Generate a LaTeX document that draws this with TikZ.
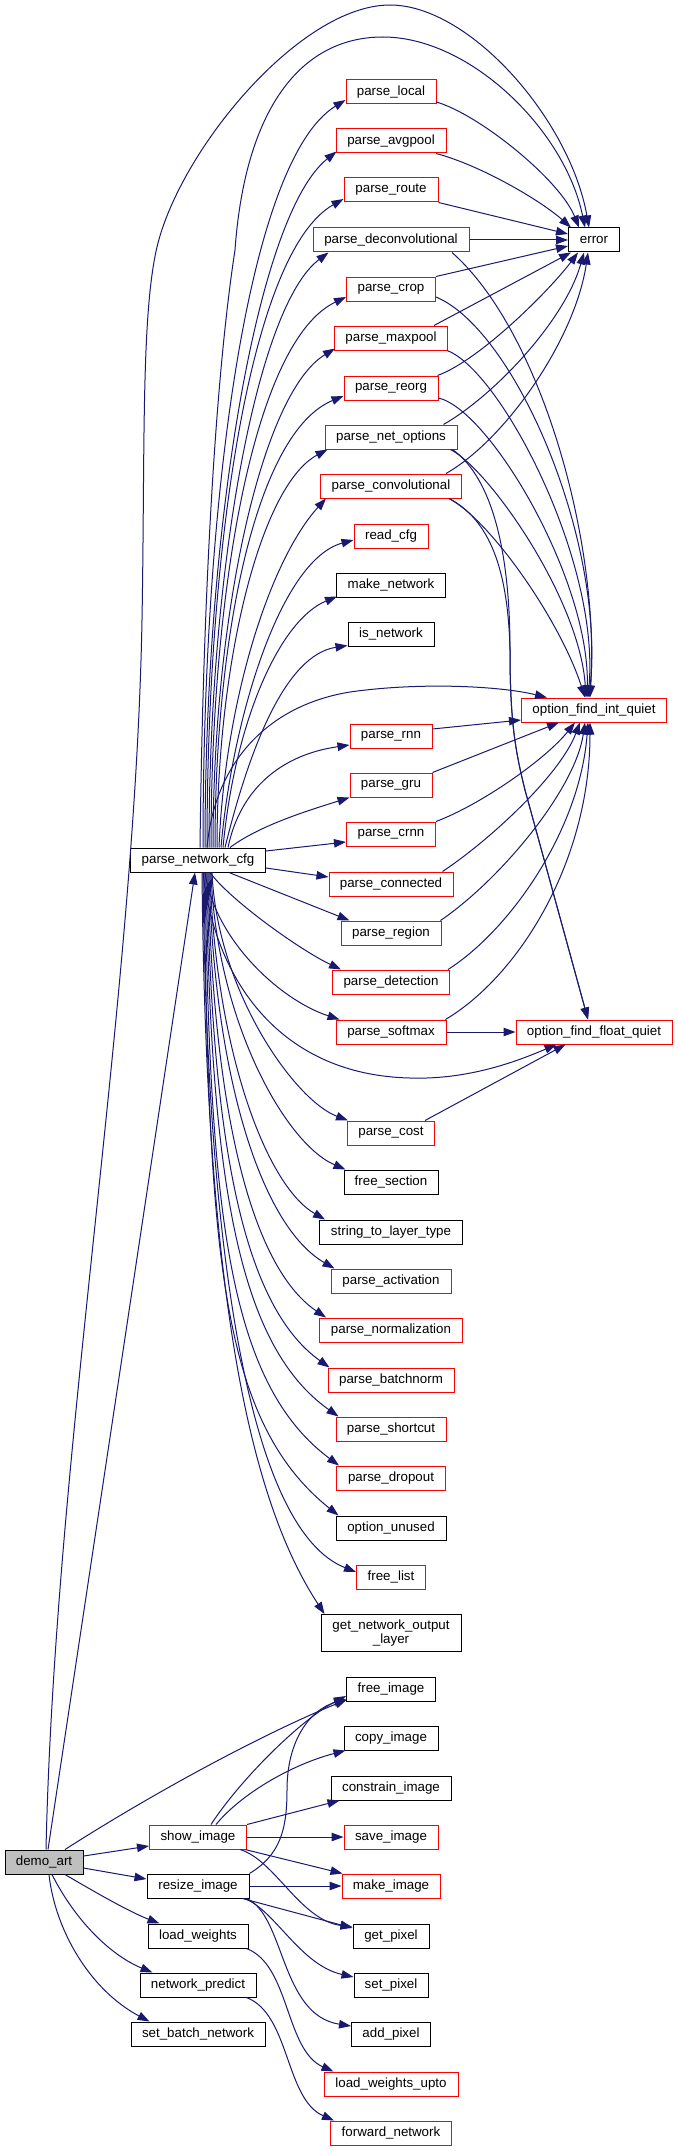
\documentclass[tikz,border=0pt]{standalone}
\usepackage{fontspec}
\setmainfont{Liberation Sans}
\usetikzlibrary{arrows.meta,calc}
\definecolor{edgeblue}{HTML}{191970}
\definecolor{nodered}{HTML}{FF0000}
\definecolor{rootfill}{HTML}{BFBFBF}
\tikzset{
  fn/.style={draw=black, line width=1pt, fill=white, minimum height=24pt,
    inner xsep=0pt, inner ysep=0pt, font=\fontsize{13.33}{15}\selectfont},
  fnred/.style={fn, draw=nodered},
  fnroot/.style={fn, fill=rootfill},
  call/.style={draw=edgeblue, line width=1pt, -{Triangle[length=12pt,width=8.5pt]}}
}
\begin{document}
\begin{tikzpicture}[x=1pt,y=-1pt]
\fill[white] (0,0) rectangle (677,2151);
\useasboundingbox (0,0) rectangle (677,2151);

% ---------- nodes ----------
\node[fn, minimum width=51pt] (err) at (594,240) {error};
\node[fnred, minimum width=145pt] (ofiq) at (594,710) {option\_find\_int\_quiet};
\node[fnred, minimum width=156pt] (offq) at (594,1032) {option\_find\_float\_quiet};

\node[fnred, minimum width=90pt] (plocal) at (391,92) {parse\_local};
\node[fnred, minimum width=110pt] (pavg) at (391,141) {parse\_avgpool};
\node[fnred, minimum width=94pt] (proute) at (391,190) {parse\_route};
\node[fnred, minimum width=156pt] (pdeconv) at (391,240) {parse\_deconvolutional};
\node[fnred, minimum width=89pt] (pcrop) at (391,289) {parse\_crop};
\node[fnred, minimum width=113pt] (pmax) at (391,338) {parse\_maxpool};
\node[fnred, minimum width=94pt] (preorg) at (391,388) {parse\_reorg};
\node[fnred, minimum width=132pt] (pnet) at (391,437) {parse\_net\_options};
\node[fnred, minimum width=141pt] (pconv) at (391,486) {parse\_convolutional};
\node[fnred, minimum width=74pt] (rcfg) at (391,536) {read\_cfg};
\node[fn, minimum width=109pt] (mknet) at (391,585) {make\_network};
\node[fn, minimum width=86pt] (isnet) at (391,634) {is\_network};
\node[fnred, minimum width=82pt] (prnn) at (391,736) {parse\_rnn};
\node[fnred, minimum width=82pt] (pgru) at (391,785) {parse\_gru};
\node[fnred, minimum width=89pt] (pcrnn) at (391,834) {parse\_crnn};
\node[fnred, minimum width=124pt] (pconn) at (391,884) {parse\_connected};
\node[fnred, minimum width=100pt] (pregion) at (391,933) {parse\_region};
\node[fnred, minimum width=117pt] (pdet) at (391,982) {parse\_detection};
\node[fnred, minimum width=110pt] (psoft) at (391,1032) {parse\_softmax};
\node[fnred, minimum width=87pt] (pcost) at (391,1133) {parse\_cost};
\node[fn, minimum width=94pt] (fsec) at (391,1182) {free\_section};
\node[fn, minimum width=143pt] (s2l) at (391,1232) {string\_to\_layer\_type};
\node[fnred, minimum width=120pt] (pact) at (391,1281) {parse\_activation};
\node[fnred, minimum width=143pt] (pnorm) at (391,1330) {parse\_normalization};
\node[fnred, minimum width=126pt] (pbn) at (391,1380) {parse\_batchnorm};
\node[fnred, minimum width=110pt] (psc) at (391,1429) {parse\_shortcut};
\node[fnred, minimum width=109pt] (pdrop) at (391,1478) {parse\_dropout};
\node[fn, minimum width=110pt] (ounused) at (391,1528) {option\_unused};
\node[fnred, minimum width=69pt] (flist) at (391,1577) {free\_list};
\node[fn, minimum width=140pt, minimum height=37pt, align=center,
      font=\fontsize{13.33}{13.5}\selectfont] (gnol) at (391,1633) {get\_network\_output\\\_layer};
\node[fn, minimum width=89pt] (fimg) at (391,1689) {free\_image};
\node[fn, minimum width=94pt] (cimg) at (391,1738) {copy\_image};
\node[fn, minimum width=120pt] (conimg) at (391,1788) {constrain\_image};
\node[fnred, minimum width=94pt] (simg) at (391,1837) {save\_image};
\node[fnred, minimum width=98pt] (mimg) at (391,1886) {make\_image};
\node[fn, minimum width=76pt] (gpix) at (391,1936) {get\_pixel};
\node[fn, minimum width=74pt] (spix) at (391,1985) {set\_pixel};
\node[fn, minimum width=79pt] (apix) at (391,2034) {add\_pixel};
\node[fnred, minimum width=134pt] (lwu) at (391,2084) {load\_weights\_upto};
\node[fnred, minimum width=121pt] (fwd) at (391,2133) {forward\_network};

\node[fn, minimum width=135pt] (pnc) at (198,860) {parse\_network\_cfg};
\node[fnred, minimum width=97pt] (show) at (198,1837) {show\_image};
\node[fn, minimum width=102pt] (resize) at (198,1886) {resize\_image};
\node[fn, minimum width=100pt] (lw) at (198,1936) {load\_weights};
\node[fn, minimum width=116pt] (np) at (198,1985) {network\_predict};
\node[fn, minimum width=134pt] (sbn) at (198,2034) {set\_batch\_network};

\node[fnroot, minimum width=78pt] (demo) at (44,1862) {demo\_art};

% ---------- edges into error ----------
\draw[call] ($(demo.north)+(2,0)$) .. controls (55,1450) and (135,1000) .. (142,620)
  .. controls (145,450) and (141,315) .. (157,247)
  .. controls (180,150) and (300,5) .. (390,5)
  .. controls (470,5) and (570,120) .. ($(err.north)+(-5,0)$);
\draw[call] ($(pnc.north)+(2,0)$) .. controls (203,600) and (215,380) .. (235,250)
  .. controls (245,110) and (300,37) .. (383,37)
  .. controls (470,37) and (565,130) .. ($(err.north)+(-9,0)$);
\draw[call] ($(plocal.east)+(0,10)$) .. controls (480,115) and (560,180) .. ($(err.north)+(-15,0)$);
\draw[call] ($(pavg.south)+(45,0)$) .. controls (480,165) and (540,200) .. ($(err.north west)+(3,0)$);
\draw[call] (proute.south east) -- ($(err.west)+(0,-6)$);
\draw[call] (pdeconv.east) -- (err.west);
\draw[call] (pcrop.north east) -- ($(err.west)+(0,6)$);
\draw[call] ($(pmax.north east)+(-14,0)$) -- ($(err.south west)+(3,0)$);
\draw[call] ($(preorg.north east)+(-1,0)$) .. controls (480,360) and (550,290) .. ($(err.south)+(-16,0)$);
\draw[call] ($(pnet.north east)+(-14,0)$) .. controls (495,395) and (565,320) .. ($(err.south)+(-10,0)$);
\draw[call] ($(pconv.north east)+(-16,0)$) .. controls (505,440) and (575,340) .. ($(err.south)+(-6,0)$);

% ---------- edges into option_find_int_quiet ----------
\draw[call] ($(pnc.north)+(9,0)$) .. controls (215,760) and (270,705) .. (350,692)
  .. controls (420,682) and (500,686) .. ($(ofiq.north west)+(26,0)$);
\draw[call] ($(pdeconv.south)+(61,0)$) .. controls (540,330) and (600,540) .. ($(ofiq.north)+(-4,0)$);
\draw[call] ($(pcrop.east)+(0,8)$) .. controls (515,330) and (605,540) .. ($(ofiq.north)+(-5,0)$);
\draw[call] ($(pmax.south east)+(-1,0)$) .. controls (500,370) and (600,560) .. ($(ofiq.north)+(-6,0)$);
\draw[call] ($(preorg.east)+(0,10)$) .. controls (490,410) and (590,580) .. ($(ofiq.north)+(-7,0)$);
\draw[call] ($(pnet.south east)+(-7,0)$) .. controls (490,470) and (580,600) .. ($(ofiq.north)+(-8,0)$);
\draw[call] ($(pconv.south east)+(-13,0)$) .. controls (490,520) and (560,620) .. ($(ofiq.north)+(-9,0)$);
\draw[call] ($(prnn.east)+(0,-7)$) -- ($(ofiq.west)+(0,10)$);
\draw[call] (pgru.north east) -- ($(ofiq.south west)+(38,0)$);
\draw[call] (pcrnn.north east) .. controls (480,805) and (545,760) .. ($(ofiq.south)+(-19,0)$);
\draw[call] ($(pconn.north east)+(-11,0)$) .. controls (490,840) and (560,775) .. ($(ofiq.south)+(-14,0)$);
\draw[call] ($(pregion.north east)+(-1,0)$) .. controls (500,880) and (575,790) .. ($(ofiq.south)+(-9,0)$);
\draw[call] ($(pdet.north east)+(-2,0)$) .. controls (510,930) and (580,830) .. ($(ofiq.south)+(-6,0)$);
\draw[call] ($(psoft.north east)+(-1,0)$) .. controls (520,975) and (590,860) .. ($(ofiq.south)+(-4,0)$);

% ---------- edges into option_find_float_quiet ----------
\draw[call] ($(pnet.south east)+(-5,0)$) .. controls (495,480) and (510,560) .. (510,650)
  .. controls (510,720) and (515,750) .. (525,790) -- ($(offq.north)+(-6,0)$);
\draw[call] ($(pconv.south east)+(-13,0)$) .. controls (490,520) and (508,570) .. (510,650)
  .. controls (510,720) and (515,750) .. (525,790) -- ($(offq.north)+(-6,0)$);
\draw[call] (psoft.east) -- (offq.west);
\draw[call] ($(pnc.south)+(5,0)$) .. controls (215,980) and (280,1075) .. (410,1078)
  .. controls (470,1080) and (520,1060) .. ($(offq.south west)+(41,0)$);
\draw[call] ($(pcost.north east)+(-10,0)$) -- ($(offq.south west)+(50,0)$);

% ---------- parse_network_cfg fan, upper ----------
\draw[call] ($(pnc.north)+(5,0)$) .. controls (203,496) and (248,160) .. ($(plocal.west)+(0,8)$);
\draw[call] ($(pnc.north)+(7,0)$) .. controls (205,520) and (258,214) .. ($(pavg.south west)+(1,-2)$);
\draw[call] ($(pnc.north)+(9,0)$) .. controls (207,543) and (251,251) .. ($(proute.west)+(0,9)$);
\draw[call] ($(pnc.north)+(11,0)$) .. controls (209,568) and (257,306) .. ($(pdeconv.south west)+(16,0)$);
\draw[call] ($(pnc.north)+(13,0)$) .. controls (211,589) and (254,341) .. ($(pcrop.west)+(0,8)$);
\draw[call] ($(pnc.north)+(15,0)$) .. controls (213,613) and (262,393) .. ($(pmax.south west)+(1,-2)$);
\draw[call] ($(pnc.north)+(17,0)$) .. controls (215,636) and (256,432) .. ($(preorg.west)+(0,8)$);
\draw[call] ($(pnc.north)+(19,0)$) .. controls (217,660) and (261,485) .. ($(pnet.south west)+(3,0)$);
\draw[call] ($(pnc.north)+(21,0)$) .. controls (225,700) and (270,560) .. ($(pconv.south west)+(6,0)$);
\draw[call] ($(pnc.north)+(23,0)$) .. controls (232,720) and (280,560) .. ($(rcfg.west)+(0,4)$);
\draw[call] ($(pnc.north)+(25,0)$) .. controls (235,720) and (280,620) .. ($(mknet.south west)+(1,-1)$);
\draw[call] ($(pnc.north)+(27,0)$) .. controls (250,746) and (286,655) .. ($(isnet.south west)+(0,-1)$);
\draw[call] ($(pnc.north)+(30,0)$) .. controls (240,790) and (280,755) .. ($(prnn.west)+(0,9)$);
\draw[call] ($(pnc.north)+(32,0)$) .. controls (260,825) and (310,810) .. (pgru.south west);
\draw[call] ($(pnc.east)+(0,-9)$) -- ($(pcrnn.west)+(0,8)$);
\draw[call] ($(pnc.east)+(0,8)$) -- ($(pconn.west)+(0,-7)$);
\draw[call] ($(pnc.south)+(31,0)$) -- ($(pregion.north west)+(9,0)$);
\draw[call] ($(pnc.south)+(12,0)$) .. controls (230,900) and (300,950) .. ($(pdet.north west)+(9,0)$);
\draw[call] ($(pnc.south)+(7,0)$) .. controls (215,940) and (280,1000) .. ($(psoft.north west)+(4,0)$);

% ---------- parse_network_cfg fan, lower ----------
\draw[call] ($(pnc.south)+(14,0)$) .. controls (217,990) and (294,1100) .. ($(pcost.north west)+(1,0)$);
\draw[call] ($(pnc.south)+(13,0)$) .. controls (216,1018) and (284,1143) .. ($(fsec.north west)+(2,0)$);
\draw[call] ($(pnc.south)+(12,0)$) .. controls (215,1046) and (265,1185) .. ($(s2l.north west)+(6,0)$);
\draw[call] ($(pnc.south)+(11,0)$) .. controls (214,1076) and (261,1226) .. ($(pact.north west)+(4,0)$);
\draw[call] ($(pnc.south)+(10,0)$) .. controls (213,1107) and (250,1266) .. ($(pnorm.north west)+(7,0)$);
\draw[call] ($(pnc.south)+(9,0)$) .. controls (212,1140) and (242,1305) .. ($(pbn.north west)+(2,0)$);
\draw[call] ($(pnc.south)+(8,0)$) .. controls (211,1174) and (236,1344) .. ($(psc.north west)+(3,0)$);
\draw[call] ($(pnc.south)+(7,0)$) .. controls (210,1209) and (227,1382) .. ($(pdrop.north west)+(3,0)$);
\draw[call] ($(pnc.south)+(6,0)$) .. controls (209,1246) and (218,1419) .. ($(ounused.north west)+(3,0)$);
\draw[call] ($(pnc.south)+(5,0)$) .. controls (207,1260) and (250,1530) .. ($(flist.west)+(0,-5)$);
\draw[call] ($(pnc.south)+(4,0)$) .. controls (206,1300) and (250,1500) .. ($(gnol.north west)+(4,0)$);

% ---------- demo_art ----------
\draw[call] ($(demo.north)+(4,0)$) -- ($(pnc.south)+(-3,0)$);
\draw[call] ($(demo.north)+(21,0)$) .. controls (150,1795) and (260,1735) .. ($(fimg.south west)+(1,-2)$);
\draw[call] ($(demo.east)+(0,-6)$) -- ($(show.west)+(0,9)$);
\draw[call] ($(demo.east)+(0,6)$) -- ($(resize.west)+(0,-7)$);
\draw[call] ($(demo.south)+(21,0)$) .. controls (100,1895) and (130,1912) .. ($(lw.north west)+(12,0)$);
\draw[call] ($(demo.south)+(8,0)$) .. controls (75,1920) and (110,1955) .. ($(np.north west)+(13,0)$);
\draw[call] ($(demo.south)+(5,0)$) .. controls (55,1930) and (90,1990) .. ($(sbn.north west)+(19,0)$);

% ---------- show_image ----------
\draw[call] ($(show.north)+(13,0)$) .. controls (240,1780) and (300,1720) .. ($(fimg.west)+(0,7)$);
\draw[call] ($(show.north)+(18,0)$) .. controls (240,1795) and (290,1765) .. ($(cimg.south west)+(2,0)$);
\draw[call] (show.north east) -- ($(conimg.south west)+(9,0)$);
\draw[call] (show.east) -- (simg.west);
\draw[call] ($(show.south east)+(-2,0)$) -- ($(mimg.north west)+(1,0)$);
\draw[call] ($(show.south)+(42,0)$) .. controls (275,1860) and (300,1920) .. ($(gpix.west)+(0,-9)$);

% ---------- resize_image ----------
\draw[call] (resize.north east) .. controls (280,1855) and (287,1830) .. (287,1790)
  .. controls (287,1740) and (310,1710) .. ($(fimg.west)+(0,10)$);
\draw[call] (resize.east) -- (mimg.west);
\draw[call] ($(resize.south east)+(-7,0)$) -- ($(gpix.west)+(0,-8)$);
\draw[call] ($(resize.south east)+(-5,0)$) .. controls (275,1910) and (300,1965) .. ($(spix.west)+(0,-8)$);
\draw[call] ($(resize.south east)+(-3,0)$) .. controls (285,1915) and (280,2015) .. ($(apix.west)+(0,-8)$);

% ---------- load_weights / network_predict ----------
\draw[call] ($(lw.south east)+(-2,0)$) .. controls (290,1965) and (285,2050) .. ($(lwu.north west)+(10,0)$);
\draw[call] ($(np.south east)+(-10,0)$) .. controls (290,2014) and (285,2099) .. ($(fwd.north west)+(4,0)$);
\end{tikzpicture}
\end{document}
